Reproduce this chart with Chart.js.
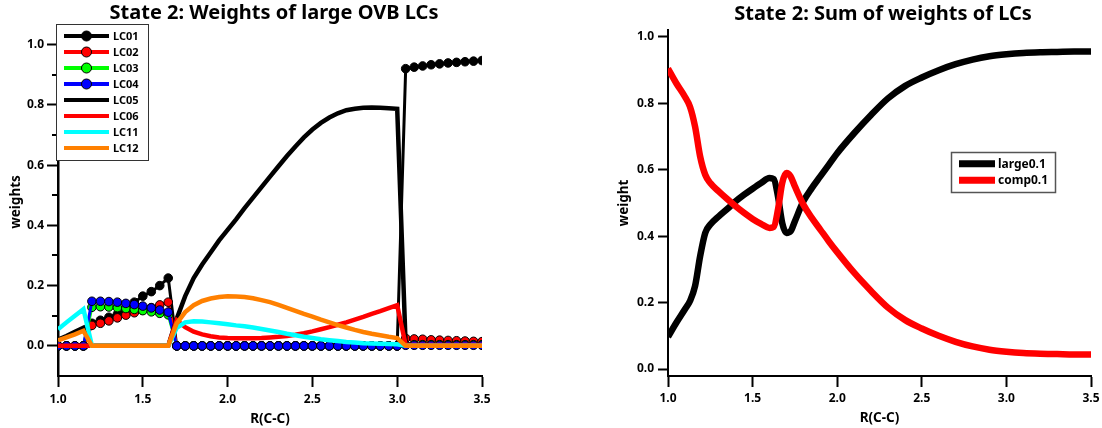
<!DOCTYPE html>
<html>
<head>
<meta charset="utf-8">
<script src="https://cdn.jsdelivr.net/npm/chart.js@4.4.1/dist/chart.umd.min.js"></script>
<style>
  html, body { margin: 0; padding: 0; background: #fff; overflow: hidden; }
  #wrap { position: relative; width: 1102px; height: 428px; overflow: hidden; background: #fff; }
  #c1 { position: absolute; left: 0; top: 0; }
  #c2 { position: absolute; left: 560px; top: 0; }
</style>
</head>
<body>
<div id="wrap">
  <canvas id="c1" width="548" height="428"></canvas>
  <canvas id="c2" width="646" height="428"></canvas>
</div>
<script>
// ---------------- Data: left chart (State 2: Weights of large OVB LCs) ----------------
const R_LEFT = [1.00,1.05,1.10,1.15,1.20,1.25,1.30,1.35,1.40,1.45,1.50,1.55,1.60,1.65,1.70,1.75,1.80,1.85,1.90,1.95,
                2.00,2.05,2.10,2.15,2.20,2.25,2.30,2.35,2.40,2.45,2.50,2.55,2.60,2.65,2.70,2.75,2.80,2.85,2.90,2.95,
                3.00,3.05,3.10,3.15,3.20,3.25,3.30,3.35,3.40,3.45,3.50];

const LC01 = [0,0,0,0, 0.075,0.085,0.095,0.105,0.12,0.145,0.165,0.18,0.2,0.225,
              0,0,0,0,0,0,0,0,0,0,0,0,0,0,0,0,0,0,0,0,0,0,0,0,0,0,0,
              0.92,0.925,0.929,0.933,0.936,0.939,0.941,0.943,0.945,0.947];
const LC02 = [0,0,0,0, 0.068,0.075,0.083,0.093,0.102,0.11,0.118,0.127,0.136,0.145,
              0,0,0,0,0,0,0,0,0,0,0,0,0,0,0,0,0,0,0,0,0,0,0,0,0,0,0,
              0.025,0.023,0.022,0.02,0.019,0.018,0.017,0.016,0.015,0.014];
const LC03 = [0,0,0,0, 0.128,0.13,0.129,0.127,0.124,0.121,0.117,0.113,0.108,0.103,
              0,0,0,0,0,0,0,0,0,0,0,0,0,0,0,0,0,0,0,0,0,0,0,0,0,0,0,
              0.004,0.004,0.004,0.004,0.004,0.004,0.004,0.004,0.004,0.004];
const LC04 = [0,0,0,0, 0.148,0.148,0.147,0.145,0.141,0.137,0.132,0.126,0.119,0.112,
              0,0,0,0,0,0,0,0,0,0,0,0,0,0,0,0,0,0,0,0,0,0,0,0,0,0,0,
              0.002,0.002,0.002,0.002,0.002,0.002,0.002,0.002,0.002,0.002];
const LC05 = [0.02,0.033,0.047,0.06, 0,0,0,0,0,0,0,0,0,0,
              0.09,0.165,0.225,0.27,0.31,0.35,0.385,0.42,0.457,0.492,0.527,0.562,0.596,0.63,0.662,0.692,
              0.718,0.74,0.758,0.772,0.782,0.787,0.79,0.791,0.79,0.789,0.787,
              0,0,0,0,0,0,0,0,0,0];
const LC06 = [0,0,0,0, 0,0,0,0,0,0,0,0,0,0,
              0.085,0.062,0.047,0.038,0.032,0.028,0.026,0.025,0.025,0.025,0.026,0.028,0.03,0.033,0.037,0.042,
              0.048,0.055,0.062,0.07,0.078,0.087,0.096,0.106,0.115,0.125,0.135,
              0.003,0.003,0.003,0.003,0.003,0.003,0.003,0.003,0.003,0.003];
const LC11 = [0.055,0.078,0.1,0.122, 0,0,0,0,0,0,0,0,0,0,
              0.06,0.078,0.082,0.081,0.078,0.075,0.072,0.068,0.065,0.061,0.056,0.051,0.046,0.04,0.035,0.03,
              0.026,0.022,0.019,0.016,0.013,0.011,0.009,0.008,0.007,0.006,0.005,
              0,0,0,0,0,0,0,0,0,0];
const LC12 = [0.018,0.028,0.038,0.05, 0,0,0,0,0,0,0,0,0,0,
              0.075,0.112,0.135,0.149,0.157,0.162,0.165,0.164,0.162,0.158,0.152,0.145,0.136,0.126,0.116,0.106,
              0.097,0.087,0.078,0.069,0.061,0.053,0.046,0.04,0.035,0.03,0.026,
              0,0,0,0,0,0,0,0,0,0];

const LEFT_SERIES_NAMES = ['LC01','LC02','LC03','LC04','LC05','LC06','LC11','LC12'];
const LEFT_X_TICKS = [1.0,1.5,2.0,2.5,3.0,3.5];
const LEFT_Y_TICKS = [0.0,0.2,0.4,0.6,0.8,1.0];
const LEFT_Y_MINOR = [0.1,0.3,0.5,0.7,0.9];

// ---------------- Data: right chart (State 2: Sum of weights of LCs) ----------------
const R_RIGHT = [1.00,1.05,1.10,1.13,1.16,1.19,1.22,1.25,1.30,1.35,1.40,1.45,1.50,1.55,1.60,1.625,1.65,1.675,1.70,1.725,
                 1.75,1.80,1.85,1.90,1.95,2.00,2.10,2.20,2.30,2.40,2.50,2.60,2.70,2.80,2.90,3.00,3.10,3.20,3.30,3.40,3.50];
const LARGE01 = [0.097,0.14,0.18,0.205,0.25,0.34,0.41,0.435,0.46,0.482,0.505,0.525,0.543,0.56,0.575,0.572,0.52,0.44,0.41,0.415,
                 0.445,0.505,0.545,0.58,0.615,0.65,0.71,0.765,0.815,0.852,0.878,0.9,0.918,0.932,0.942,0.948,0.952,0.954,0.955,0.956,0.956];
const COMP01  = [0.905,0.86,0.82,0.79,0.73,0.64,0.585,0.56,0.535,0.512,0.49,0.47,0.452,0.437,0.425,0.428,0.48,0.56,0.59,0.58,
                 0.55,0.495,0.455,0.42,0.385,0.352,0.29,0.235,0.185,0.148,0.122,0.1,0.082,0.068,0.058,0.052,0.048,0.046,0.045,0.044,0.044];
const RIGHT_SERIES_NAMES = ['large0.1','comp0.1'];
const RIGHT_X_TICKS = [1.0,1.5,2.0,2.5,3.0,3.5];
const RIGHT_Y_TICKS = [0.0,0.2,0.4,0.6,0.8,1.0];

// ---------------- Styling helpers ----------------
const FONT = "'Noto Sans', 'Open Sans', 'DejaVu Sans', sans-serif";
const pts = (xs, ys) => xs.map((x, i) => ({x: x, y: ys[i]}));

const minorTicks = {
  id: 'minorTicks',
  afterDraw(chart, args, o) {
    if (!o || !o.values) return;
    const sc = chart.scales.y, ctx = chart.ctx, x0 = chart.chartArea.left;
    ctx.save();
    ctx.strokeStyle = '#000';
    ctx.lineWidth = o.width;
    o.values.forEach(v => {
      const p = Math.round(sc.getPixelForValue(v));
      ctx.beginPath(); ctx.moveTo(x0 - o.length, p); ctx.lineTo(x0, p); ctx.stroke();
    });
    ctx.restore();
  }
};

const boxLegend = {
  id: 'boxLegend',
  afterDraw(chart, args, o) {
    if (!o || !o.show) return;
    const ctx = chart.ctx;
    ctx.save();
    ctx.fillStyle = '#fff';
    ctx.fillRect(o.x, o.y, o.w, o.h);
    ctx.strokeStyle = o.borderColor;
    ctx.lineWidth = o.borderWidth;
    ctx.strokeRect(o.x, o.y, o.w, o.h);
    chart.data.datasets.forEach((ds, i) => {
      const cy = o.firstY + i * o.step;
      ctx.strokeStyle = ds.borderColor;
      ctx.lineWidth = o.lineWidth;
      ctx.lineCap = 'butt';
      ctx.beginPath(); ctx.moveTo(o.lineX0, cy); ctx.lineTo(o.lineX1, cy); ctx.stroke();
      if (ds.pointRadius > 0) {
        ctx.beginPath();
        ctx.arc((o.lineX0 + o.lineX1) / 2, cy, o.markerR, 0, Math.PI * 2);
        ctx.fillStyle = ds.pointBackgroundColor;
        ctx.fill();
        ctx.lineWidth = 1;
        ctx.strokeStyle = '#000';
        ctx.stroke();
      }
      ctx.fillStyle = '#000';
      ctx.font = 'bold ' + o.fontSize + 'px ' + FONT;
      ctx.textBaseline = 'middle';
      ctx.textAlign = 'left';
      ctx.fillText(ds.label, o.textX, cy + 0.5);
    });
    ctx.restore();
  }
};

function axisCommon(tickLen, borderW, labelPad) {
  return {
    grid: { display: true, drawOnChartArea: false, drawTicks: true, tickLength: tickLen, tickWidth: 2, tickColor: '#000' },
    border: { display: true, color: '#000', width: borderW },
    ticks: { font: { family: FONT, size: 12, weight: 'bold' }, color: '#000', padding: labelPad,
             callback: v => Number(v).toFixed(1), autoSkip: false, maxRotation: 0 }
  };
}

// ---------------- Left chart ----------------
const leftColors = ['#000000','#ff0000','#00ff00','#0000ff','#000000','#ff0000','#00ffff','#ff8000'];
const leftValues = [LC01, LC02, LC03, LC04, LC05, LC06, LC11, LC12];
const leftDatasets = LEFT_SERIES_NAMES.map((name, i) => {
  const marker = i < 4;
  return {
    label: name,
    data: pts(R_LEFT, leftValues[i]),
    borderColor: leftColors[i],
    backgroundColor: leftColors[i],
    borderWidth: marker ? 3 : 4.5,
    pointRadius: marker ? 4.3 : 0,
    pointHoverRadius: marker ? 4.3 : 0,
    pointBackgroundColor: leftColors[i],
    pointBorderColor: '#000',
    pointBorderWidth: 1,
    tension: 0,
    order: LEFT_SERIES_NAMES.length - i
  };
});

const lx = axisCommon(11, 2, 5);
const ly = axisCommon(11, 2.5, 3);
new Chart(document.getElementById('c1'), {
  type: 'line',
  data: { datasets: leftDatasets },
  options: {
    responsive: false, animation: false, devicePixelRatio: 1,
    events: [],
    layout: { padding: 0 },
    plugins: {
      legend: { display: false },
      tooltip: { enabled: false },
      title: { display: true, text: 'State 2: Weights of large OVB LCs', color: '#000',
               font: { family: FONT, size: 20, weight: 'bold' }, padding: { top: 1.5, bottom: 2.5 } },
      minorTicks: { values: LEFT_Y_MINOR, length: 6, width: 2 },
      boxLegend: { show: true, x: 56.5, y: 24.5, w: 92, h: 136, borderColor: '#333', borderWidth: 1,
                   firstY: 36, step: 16, lineX0: 64, lineX1: 109, markerR: 5, lineWidth: 4, textX: 113, fontSize: 11 }
    },
    scales: {
      x: Object.assign({}, lx, {
        type: 'linear', min: 1, max: 3.5,
        afterBuildTicks: s => { s.ticks = LEFT_X_TICKS.map(v => ({ value: v })); },
        afterFit: s => { s.height = 52; s.paddingRight = 66; },
        title: { display: true, text: 'R(C-C)', color: '#000', font: { family: FONT, size: 13.5, weight: 'bold' }, padding: { top: 0, bottom: 1 } }
      }),
      y: Object.assign({}, ly, {
        type: 'linear', min: -0.1, max: 1.055,
        afterBuildTicks: s => { s.ticks = LEFT_Y_TICKS.map(v => ({ value: v })); },
        afterFit: s => { s.width = 58; },
        title: { display: true, text: 'weights', color: '#000', font: { family: FONT, size: 13.5, weight: 'bold' }, padding: { top: 8, bottom: 0 } }
      })
    }
  },
  plugins: [minorTicks, boxLegend]
});

// ---------------- Right chart ----------------
const rightColors = ['#000000', '#ff0000'];
const rightValues = [LARGE01, COMP01];
const rightDatasets = RIGHT_SERIES_NAMES.map((name, i) => ({
  label: name,
  data: pts(R_RIGHT, rightValues[i]),
  borderColor: rightColors[i],
  backgroundColor: rightColors[i],
  borderWidth: 6.5,
  pointRadius: 0,
  pointHoverRadius: 0,
  cubicInterpolationMode: 'monotone',
  order: RIGHT_SERIES_NAMES.length - i
}));

const rx = axisCommon(11, 2, 4);
const ry = axisCommon(10, 2, 4);
new Chart(document.getElementById('c2'), {
  type: 'line',
  data: { datasets: rightDatasets },
  options: {
    responsive: false, animation: false, devicePixelRatio: 1,
    events: [],
    layout: { padding: 0 },
    plugins: {
      legend: { display: false },
      tooltip: { enabled: false },
      title: { display: true, text: 'State 2: Sum of weights of LCs', color: '#000',
               font: { family: FONT, size: 20, weight: 'bold' }, padding: { top: 2.5, bottom: 3.5 } },
      boxLegend: { show: true, x: 391.5, y: 152.5, w: 104, h: 40, borderColor: '#555', borderWidth: 1.5,
                   firstY: 163.7, step: 16.6, lineX0: 399, lineX1: 435, markerR: 0, lineWidth: 7, textX: 438, fontSize: 12 }
    },
    scales: {
      x: Object.assign({}, rx, {
        type: 'linear', min: 1, max: 3.5,
        afterBuildTicks: s => { s.ticks = RIGHT_X_TICKS.map(v => ({ value: v })); },
        afterFit: s => { s.height = 52; s.paddingRight = 115; },
        title: { display: true, text: 'R(C-C)', color: '#000', font: { family: FONT, size: 13.5, weight: 'bold' }, padding: { top: 0, bottom: 2 } }
      }),
      y: Object.assign({}, ry, {
        type: 'linear', min: -0.021, max: 1.021,
        afterBuildTicks: s => { s.ticks = RIGHT_Y_TICKS.map(v => ({ value: v })); },
        afterFit: s => { s.width = 108; },
        title: { display: true, text: 'weight', color: '#000', font: { family: FONT, size: 13.5, weight: 'bold' }, padding: { top: 56.5, bottom: 0 } }
      })
    }
  },
  plugins: [boxLegend]
});
</script>
</body>
</html>
